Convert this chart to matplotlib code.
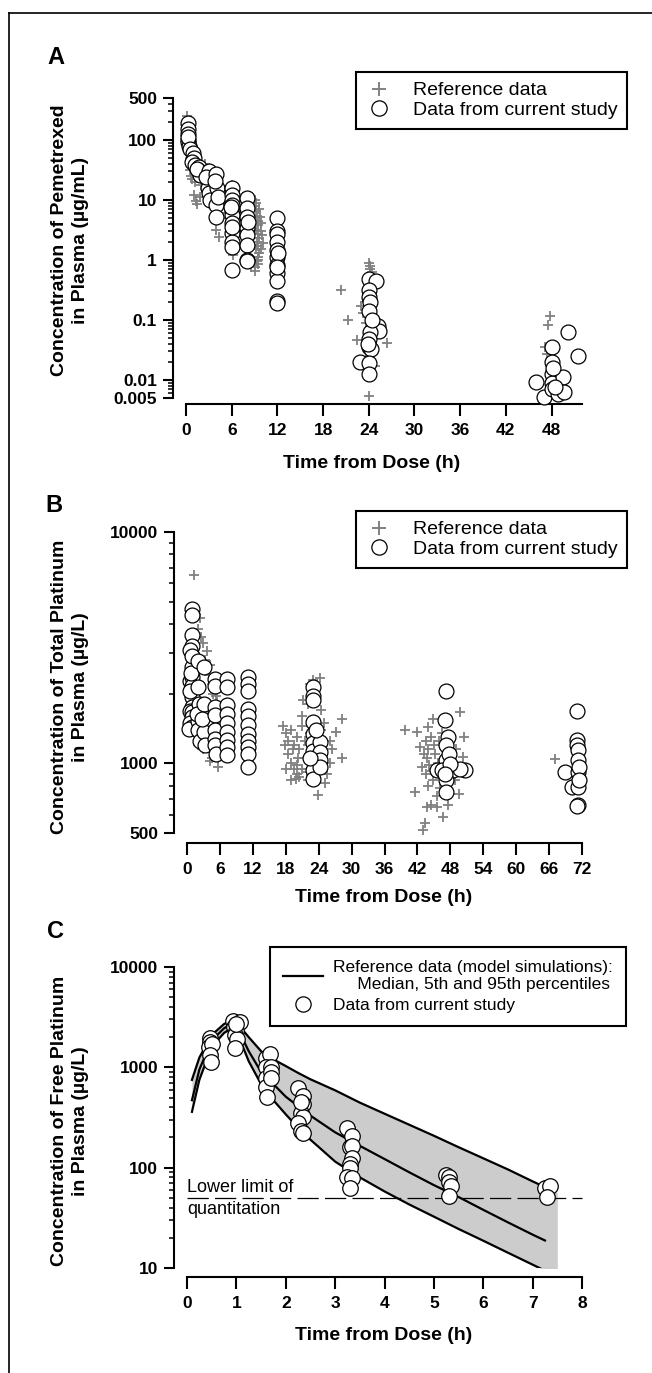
import matplotlib.pyplot as plt
from matplotlib.lines import Line2D
from matplotlib.ticker import NullFormatter

plt.rcParams['font.family'] = ['Liberation Sans', 'DejaVu Sans']

# ---------------- data ----------------
# Panel A: pemetrexed (ug/mL)
a_ref_t = [0.1, 0.2, 0.25, 0.3, 0.5, 0.3, 0.5, 0.5, 0.6, 0.8, 1.0, 1.2, 1.1, 1.3, 1.5, 1.8, 2.0, 2.3, 2.5,
           2.8, 3.0, 3.3, 3.5, 3.8, 4.0, 4.3, 4.5, 5.0, 5.5, 5.8, 6.0, 6.0, 6.2, 6.3, 6.5, 7.0, 7.5, 8.0,
           8.2, 8.5, 9.0, 9.1, 9.2, 9.3, 9.4, 9.5, 9.2, 9.4, 9.6, 9.3, 9.5, 9.2, 9.6, 9.4, 9.3, 9.5, 9.0,
           9.1, 9.7, 9.9, 10.1, 9.8, 9.6, 9.2, 9.9, 10.0, 9.5,
           20.3, 21.3, 22.4, 23.0, 23.2, 23.5, 24.0, 24.2, 24.1, 24.4, 24.0, 23.8, 24.3, 24.5, 24.6, 24.2,
           24.0, 24.8, 26.4, 23.7, 24.6,
           47.8, 47.6, 47.4, 48.1, 47.8, 48.3, 47.2]
a_ref_c = [250, 200, 160, 130, 110, 70, 50, 32, 25, 22, 30, 20, 12, 9.5, 8.5, 11, 18, 28, 40,
           30, 25, 20, 14, 10, 3.2, 2.4, 6, 9, 5, 3, 18, 14, 1.2, 2.4, 6, 1.8, 11, 8,
           1.1, 0.75, 10, 8, 6.5, 5.5, 4.5, 3.8, 3.2, 2.7, 2.3, 2.0, 1.7, 1.5, 1.3, 1.1, 0.95, 0.85, 0.75,
           0.65, 5.2, 3.0, 1.9, 4.2, 7, 9, 1.5, 2.6, 1.0,
           0.32, 0.1, 0.046, 0.17, 0.13, 0.2, 0.9, 0.8, 0.7, 0.62, 0.5, 0.27, 0.15, 0.11, 0.06, 0.025,
           0.0055, 0.017, 0.041, 0.09, 0.35,
           0.118, 0.082, 0.027, 0.018, 0.0086, 0.012, 0.035]
a_cur_t = [0.2, 0.2, 0.25, 0.2, 0.3, 0.4, 0.3, 0.5, 0.9, 1.0, 0.8, 1.2, 1.7, 1.6, 1.8, 1.4,
           3.0, 3.0, 2.9, 3.0, 3.1, 2.6, 4.0, 4.1, 4.0, 4.0, 3.8, 4.2,
           6.0, 6.0, 6.0, 6.0, 6.0, 6.0, 6.0, 6.0, 6.0, 6.0, 6.0, 5.9, 6.1,
           8.0, 8.0, 8.0, 8.0, 8.0, 8.0, 8.0, 8.0, 8.1,
           12, 12, 12, 12, 12, 12, 12, 12, 12, 12, 12, 12.1, 11.9,
           24.0, 24.9, 24.0, 24.0, 24.1, 24.0, 25.2, 25.3, 24.2, 24.0, 24.0, 24.3, 22.8, 24.0, 24.0, 24.4, 23.9,
           46.0, 47.0, 48.0, 48.0, 48.0, 48.0, 48.0, 48.8, 49.5, 49.6, 50.1, 51.5, 48.2, 48.4]
a_cur_c = [190, 150, 125, 100, 92, 80, 110, 70, 61, 50, 43, 38, 36, 31.5, 26, 33,
           30, 20, 16, 13, 10, 24, 27.5, 15.8, 8.2, 5.2, 21, 11,
           16, 12, 10, 8.2, 6.8, 5.6, 4.1, 2.8, 2.0, 1.66, 0.68, 7.5, 3.5,
           10.7, 7.3, 5.2, 3.4, 2.6, 1.8, 1.0, 0.95, 4.3,
           5.0, 3.0, 2.7, 2.0, 1.47, 1.13, 0.83, 0.6, 0.44, 0.21, 0.19, 1.3, 0.75,
           0.48, 0.45, 0.31, 0.24, 0.2, 0.14, 0.08, 0.066, 0.062, 0.048, 0.035, 0.033, 0.02, 0.019, 0.0125, 0.1, 0.04,
           0.0091, 0.0051, 0.035, 0.02, 0.0125, 0.009, 0.007, 0.0059, 0.011, 0.0062, 0.064, 0.025, 0.016, 0.0075]
a_xticks = [0, 6, 12, 18, 24, 30, 36, 42, 48]
a_yticks = [0.005, 0.01, 0.1, 1, 10, 100, 500]
a_ylabels = ['0.005', '0.01', '0.1', '1', '10', '100', '500']

# Panel B: total platinum (ug/L)
b_ref_t = [1.28, 2.4, 2.0, 2.6, 3.0, 3.6, 3.3, 4.2, 4.0, 4.5, 4.8, 5.2, 5.5, 3.8, 2.5, 4.0, 4.5, 4.6, 4.2,
           5.6, 1.5, 2.0, 3.0, 6.0, 6.5, 6.8, 5.8, 1.0, 1.2, 1.5, 2.0,
           17.5, 18.0, 18.5, 19.0, 19.5, 20.0, 20.5, 21.0, 18.5, 19.0, 19.5, 20.0, 20.5, 21.0, 21.5, 22.0,
           22.5, 21.0, 22.0, 22.5, 23.0, 24.2, 24.5, 25.0, 26.0, 27.1, 28.2, 28.2, 25.5, 23.9, 22.0, 18.0,
           19.0, 20.0, 21.5, 23.5, 24.5, 26.0, 21.2, 19.8, 20.3, 21.8, 25.2, 26.5, 17.8, 19.3,
           39.7, 41.9, 43.9, 44.8, 49.8, 42.5, 41.6, 43.7, 44.5, 45.5, 46.7, 43.4, 43.1, 47.6, 49.5, 50.3,
           43.5, 44.0, 44.5, 45.0, 43.8, 44.2, 43.5, 44.8, 44.0, 45.2, 45.8, 46.0, 43.2, 44.6, 42.8, 46.5,
           47.2, 48.0, 49.0, 50.5, 48.8, 46.2, 45.5,
           67.0]
b_ref_c = [6550, 4230, 3800, 3500, 3300, 3060, 2800, 2650, 2400, 2200, 2000, 1950, 1850, 1700, 1500, 1300,
           1150, 1050, 1020, 960, 1430, 1200, 1150, 1600, 1400, 1250, 1150, 1800, 2400, 3000, 2200,
           1450, 1350, 1250, 1400, 1200, 1300, 1150, 1450, 1100, 1000, 950, 900, 870, 950, 1050, 1200,
           1350, 1600, 1800, 2200, 2300, 2330, 1700, 1500, 1250, 1365, 1050, 1560, 900, 728, 850, 950,
           850, 980, 1250, 1200, 1400, 1000, 1870, 860, 1050, 920, 820, 1150, 1200, 1150,
           1390, 1365, 1435, 1560, 1665, 1175, 750, 650, 660, 650, 587, 550, 514, 660, 740, 1065,
           1250, 1150, 1300, 1200, 1050, 980, 900, 850, 800, 1100, 1000, 1250, 1100, 930, 960, 1350,
           1500, 1250, 1150, 1300, 850, 780, 720,
           1040]
b_cur_t = [0.85, 0.85, 0.9, 0.85, 0.6, 0.9, 0.5, 0.85, 0.85, 0.85, 0.6, 0.85, 0.5, 0.85, 0.85, 0.5, 0.85,
           0.4, 1.0, 0.7,
           2.06, 2.06, 2.1, 2.06, 2.06, 1.8, 2.3,
           3.1, 3.1, 3.1, 3.3, 2.8,
           5.1, 5.1, 5.1, 5.1, 5.1, 5.1, 5.1, 5.2,
           7.2, 7.2, 7.2, 7.2, 7.2, 7.2, 7.2, 7.2, 7.2,
           11.2, 11.2, 11.2, 11.2, 11.2, 11.2, 11.2, 11.2, 11.2, 11.2, 11.2,
           23.0, 23.0, 23.0, 23.0, 23.0, 23.0, 23.0, 23.0, 23.0, 23.0, 24.2, 24.2, 24.2, 24.2, 23.5, 22.5,
           47.2, 47.0, 47.6, 47.3, 47.3, 45.5, 46.5, 48.5, 50.7, 49.7, 47.3, 47.3, 47.8, 48.0, 47.0,
           71.0, 71.0, 71.0, 71.3, 71.3, 68.9, 71.3, 70.1, 71.3, 71.3, 71.0, 71.5, 71.5]
b_cur_c = [4660, 4360, 3570, 3200, 3100, 2600, 2280, 2360, 2170, 1930, 2050, 1750, 1690, 1660, 1580, 1500, 1435,
           1410, 2900, 2450,
           2780, 2140, 1800, 1530, 1390, 1640, 1250,
           2600, 1810, 1365, 1200, 1550,
           2320, 2150, 1750, 1620, 1390, 1280, 1200, 1100,
           2320, 2140, 1780, 1640, 1500, 1365, 1260, 1175, 1083,
           2360, 2210, 2050, 1720, 1600, 1460, 1343, 1250, 1175, 1100, 964,
           2130, 1960, 1870, 1510, 1340, 1230, 1130, 1030, 933, 860, 1235, 1118, 1030, 964, 1400, 1050,
           2050, 1534, 1300, 1196, 1030, 933, 940, 940, 933, 950, 845, 752, 1100, 990, 900,
           1690, 1260, 1200, 1138, 1030, 917, 917, 790, 790, 659, 652, 960, 850]
b_xticks = list(range(0, 73, 6))
b_yticks = [500, 1000, 10000]

# Panel C: free platinum (ug/L), model simulations + observed
c_sim_t = [0.1, 0.25, 0.5, 0.75, 0.9, 1.0, 1.1, 1.25, 1.5, 1.75, 2.0, 2.25, 2.5, 3.0, 3.5, 4.0, 4.5,
           5.0, 5.5, 6.0, 6.5, 7.0, 7.25, 7.5]
c_p95 = [750, 1250, 2100, 2700, 2950, 2950, 2450, 2000, 1450, 1200, 1030, 880, 760, 590, 445, 345, 268,
         208, 160, 124, 96, 73, 64, 56]
c_med = [470, 950, 1850, 2450, 2700, 2650, 2050, 1450, 900, 680, 510, 410, 330, 225, 165, 122, 90,
         67, 51, 38, 28.5, 21.5, 18.8, 16.5]
c_p05 = [360, 750, 1600, 2200, 2450, 2450, 1750, 1150, 680, 470, 340, 250, 190, 115, 80, 58, 43,
         32.5, 24.5, 18.7, 14.2, 10.8, 9.4, 8.2]
c_cur_t = [0.47, 0.47, 0.45, 0.5, 0.47, 0.48,
           0.93, 1.07, 0.95, 1.0, 0.98, 1.02, 0.98, 1.0,
           1.6, 1.68, 1.6, 1.7, 1.6, 1.7, 1.6, 1.62, 1.7,
           2.25, 2.35, 2.35, 2.3, 2.35, 2.25, 2.3, 2.35, 2.3,
           3.25, 3.35, 3.3, 3.35, 3.35, 3.3, 3.3, 3.25, 3.35, 3.3,
           5.25, 5.3, 5.3, 5.35, 5.3,
           7.25, 7.35, 7.3]
c_cur_c = [1945, 1800, 1600, 1700, 1330, 1140,
           2900, 2850, 2500, 2300, 2100, 1900, 1550, 2700,
           1230, 1350, 1015, 1000, 776, 900, 641, 510, 780,
           620, 520, 430, 350, 320, 280, 230, 220, 450,
           250, 205, 160, 165, 125, 110, 100, 80, 78, 63,
           85, 80, 72, 65, 52,
           63, 66, 51]
c_lloq = 50
c_xticks = list(range(0, 9))
c_yticks = [10, 100, 1000, 10000]

# ---------------- figure ----------------
W, H = 652, 1373
fig = plt.figure(figsize=(W / 100, H / 100), dpi=100)
GRAY = '#808080'


def px_box(l, t, r, b):
    return [l / W, 1 - b / H, (r - l) / W, (b - t) / H]


def style(ax, xoff_px):
    for s in ['top', 'right']:
        ax.spines[s].set_visible(False)
    ax.spines['left'].set_position(('outward', 13 * 0.72))
    ax.spines['bottom'].set_position(('outward', xoff_px * 0.72))
    ax.spines['left'].set_linewidth(1.5)
    ax.spines['bottom'].set_linewidth(1.5)
    ax.tick_params(which='major', length=7.5, width=1.5, labelsize=12.5)
    ax.tick_params(axis='x', which='major', length=8.5, pad=5)
    ax.tick_params(axis='y', which='major', pad=4)
    ax.tick_params(axis='y', which='minor', length=3.8, width=1.1)
    ax.tick_params(axis='x', which='minor', bottom=False)
    ax.yaxis.set_minor_formatter(NullFormatter())
    plt.setp(ax.get_xticklabels() + ax.get_yticklabels(), fontweight='bold')


def add_legend(ax, handles, labels, right_px, top_px, fs, hl, htp, bp, ls):
    leg = ax.legend(handles, labels, loc='upper right',
                    bbox_to_anchor=(right_px / W, 1 - top_px / H),
                    bbox_transform=fig.transFigure, borderaxespad=0,
                    fancybox=False, edgecolor='black', framealpha=1,
                    fontsize=fs, handlelength=hl, handletextpad=htp,
                    labelspacing=ls, borderpad=bp)
    leg.get_frame().set_linewidth(1.5)
    return leg


h_ref = Line2D([], [], ls='none', marker='+', color=GRAY, ms=10, mew=1.4)
h_cur = Line2D([], [], ls='none', marker='o', mfc='white', mec='black', ms=11, mew=0.9)

# ---- Panel A ----
axA = fig.add_axes(px_box(186, 98, 582, 398))
axA.set_yscale('log')
axA.scatter(a_ref_t, a_ref_c, marker='+', s=60, color=GRAY, linewidths=1.3, clip_on=False, zorder=2)
axA.scatter(a_cur_t, a_cur_c, marker='o', s=115, facecolor='white', edgecolor='black',
            linewidths=0.9, clip_on=False, zorder=3)
axA.set_xlim(0, 52)
axA.set_ylim(0.005, 500)
axA.set_xticks(a_xticks)
axA.set_yticks(a_yticks, a_ylabels)
style(axA, 6)
add_legend(axA, [h_ref, h_cur], ['Reference data', 'Data from current study'], 627, 72,
           14, 1.3, 1.1, 0.5, 0.12)

# ---- Panel B ----
axB = fig.add_axes(px_box(187, 532, 582, 833))
axB.set_yscale('log')
axB.scatter(b_ref_t, b_ref_c, marker='+', s=60, color=GRAY, linewidths=1.3, clip_on=False, zorder=2)
axB.scatter(b_cur_t, b_cur_c, marker='o', s=115, facecolor='white', edgecolor='black',
            linewidths=0.9, clip_on=False, zorder=3)
axB.set_xlim(0, 72)
axB.set_ylim(500, 10000)
axB.set_xticks(b_xticks)
axB.set_yticks(b_yticks, [str(v) for v in b_yticks])
style(axB, 10)
add_legend(axB, [h_ref, h_cur], ['Reference data', 'Data from current study'], 627, 511,
           14, 1.3, 1.1, 0.5, 0.12)

# ---- Panel C ----
axC = fig.add_axes(px_box(187, 967, 582, 1268))
axC.set_yscale('log')
axC.fill_between(c_sim_t, c_p05, c_p95, color='#cccccc', lw=0, zorder=1)
for curve in (c_p95, c_med, c_p05):
    axC.plot(c_sim_t[:-1], curve[:-1], color='black', lw=1.6, zorder=2)
axC.plot([0, 8], [c_lloq, c_lloq], color='black', lw=0.9, dashes=(17, 5), zorder=2, clip_on=False)
axC.text(0.0, c_lloq * 1.04, 'Lower limit of', fontsize=13, ha='left', va='bottom', zorder=4)
axC.text(0.0, c_lloq * 0.93, 'quantitation', fontsize=13, ha='left', va='top', zorder=4)
axC.scatter(c_cur_t, c_cur_c, marker='o', s=125, facecolor='white', edgecolor='black',
            linewidths=0.9, clip_on=False, zorder=3)
axC.set_xlim(0, 8)
axC.set_ylim(10, 10000)
axC.set_xticks(c_xticks)
axC.set_yticks(c_yticks, [str(v) for v in c_yticks])
style(axC, 9)
h_line = Line2D([], [], color='black', lw=1.6)
add_legend(axC, [h_line, h_cur],
           ['Reference data (model simulations):\n     Median, 5th and 95th percentiles',
            'Data from current study'], 626, 947, 12.5, 2.3, 0.6, 0.75, 0.3)

# ---- labels ----
for y_px, text in [(240, 'Concentration of Pemetrexed\nin Plasma (\u00b5g/mL)'),
                   (687, 'Concentration of Total Platinum\nin Plasma (\u00b5g/L)'),
                   (1121, 'Concentration of Free Platinum\nin Plasma (\u00b5g/L)')]:
    fig.text(70 / W, 1 - y_px / H, text, rotation=90, ha='center', va='center',
             multialignment='center', fontsize=14, fontweight='bold', linespacing=1.25)

for x_px, y_px in [(372, 463), (384, 897), (384, 1335)]:
    fig.text(x_px / W, 1 - y_px / H, 'Time from Dose (h)', ha='center', va='center',
             fontsize=14, fontweight='bold')

for x_px, y_px, letter in [(56, 57, 'A'), (54, 505, 'B'), (56, 932, 'C')]:
    fig.text(x_px / W, 1 - y_px / H, letter, ha='center', va='center',
             fontsize=17, fontweight='bold')

# frame (left and top edges)
fig.add_artist(Line2D([9 / W, 9 / W], [0, 1 - 13 / H], transform=fig.transFigure, color='black', lw=1.2))
fig.add_artist(Line2D([9 / W, 1], [1 - 13 / H, 1 - 13 / H], transform=fig.transFigure, color='black', lw=1.2))

fig.savefig('out.png', dpi=100)
